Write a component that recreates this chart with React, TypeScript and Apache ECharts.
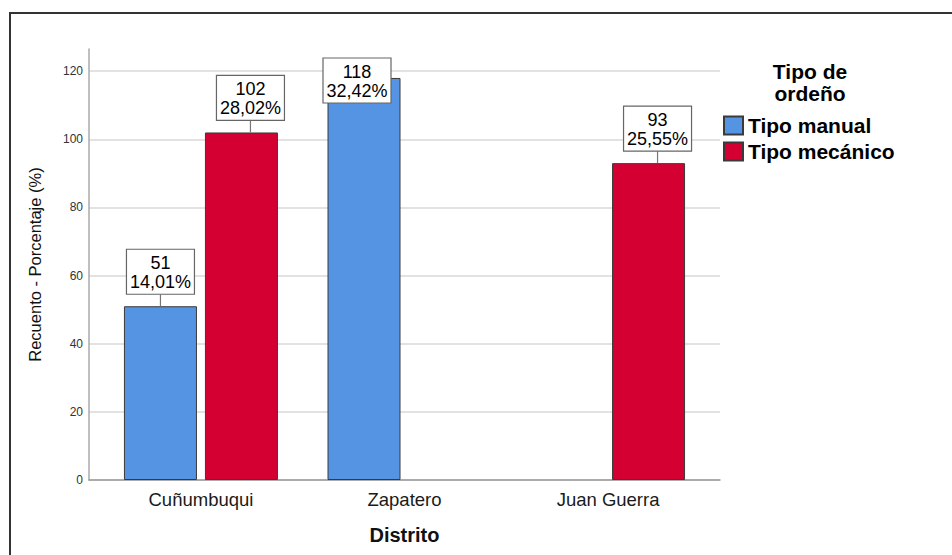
import React, { useEffect, useRef } from "react";
import * as echarts from "echarts";

const categories = ["Cuñumbuqui", "Zapatero", "Juan Guerra"];
const seriesNames = ["Tipo manual", "Tipo mecánico"];
const manualValues: (number | null)[] = [51, 118, null];
const mecanicoValues: (number | null)[] = [102, null, 93];
const manualPct: (string | null)[] = ["14,01%", "32,42%", null];
const mecanicoPct: (string | null)[] = ["28,02%", null, "25,55%"];
const yTicks = [0, 20, 40, 60, 80, 100, 120];
const legendTitleLines = ["Tipo de", "ordeño"];

const FONT = "'Liberation Sans', Arial, Helvetica, sans-serif";
const BLUE = "#5594E2";
const RED = "#D50032";
const BAR_W = 73;
const BAR_GAP = 8;

export default function App() {
  const ref = useRef<HTMLDivElement>(null);

  useEffect(() => {
    if (!ref.current) return;
    const chart = echarts.init(ref.current, undefined, { renderer: "svg" });

    const toPoints = (vals: (number | null)[]) =>
      vals.map((v, i) => (v == null ? null : [i, v])).filter((d) => d !== null);

    const annotations: { x: number; v: number; s: number; pct: string }[] = [];
    [manualValues, mecanicoValues].forEach((vals, s) => {
      const pcts = s === 0 ? manualPct : mecanicoPct;
      vals.forEach((v, i) => {
        if (v != null) annotations.push({ x: i, v, s, pct: pcts[i] as string });
      });
    });

    const option: any = {
      animation: false,
      backgroundColor: "#ffffff",
      grid: { left: 89, right: 232, top: 49, bottom: 75, outerBoundsMode: "none", containLabel: false },
      legend: {
        orient: "vertical",
        left: 723,
        top: 115,
        padding: 0,
        itemWidth: 19,
        itemHeight: 18,
        itemGap: 5,
        icon: "rect",
        data: seriesNames,
        textStyle: { fontFamily: FONT, fontSize: 21, fontWeight: "bold", color: "#000" },
      },
      graphic: [
        {
          type: "rect",
          shape: { x: 10, y: 13, width: 2000, height: 2000 },
          style: { fill: "transparent", stroke: "#333", lineWidth: 2 },
          silent: true,
        },
        ...legendTitleLines.map((t, i) => ({
          type: "text",
          x: 810,
          y: 71 + i * 22,
          style: {
            text: t,
            fontFamily: FONT,
            fontSize: 21,
            fontWeight: "bold",
            fill: "#000",
            align: "center",
            verticalAlign: "middle",
          },
        })),
      ],
      xAxis: {
        type: "value",
        min: -0.55,
        max: 2.55,
        name: "Distrito",
        nameLocation: "middle",
        nameGap: 45,
        nameTextStyle: { fontFamily: FONT, fontSize: 20, fontWeight: "bold", color: "#111" },
        axisLine: { show: true, onZero: false, lineStyle: { color: "#999", width: 1.5 } },
        axisTick: { show: false },
        splitLine: { show: false },
        axisLabel: {
          customValues: [0, 1, 2],
          formatter: (v: number) => categories[Math.round(v)] ?? "",
          margin: 10,
          fontFamily: FONT,
          fontSize: 18.5,
          color: "#1a1a1a",
        },
      },
      yAxis: {
        type: "value",
        min: 0,
        max: 126.5,
        interval: 20,
        name: "Recuento - Porcentaje (%)",
        nameLocation: "middle",
        nameGap: 46,
        nameTextStyle: { fontFamily: FONT, fontSize: 16.5, color: "#111" },
        axisLine: { show: true, onZero: false, lineStyle: { color: "#aaa", width: 1.5 } },
        axisTick: { show: false },
        axisLabel: {
          showMaxLabel: false,
          margin: 6,
          fontFamily: FONT,
          fontSize: 12,
          color: "#333",
          formatter: (v: number) => (yTicks.includes(v) ? String(v) : ""),
        },
        splitLine: { show: true, showMaxLine: false, lineStyle: { color: "#d8d8d8", width: 1.5 } },
      },
      series: [
        {
          name: seriesNames[0],
          type: "bar",
          data: toPoints(manualValues),
          barWidth: BAR_W,
          barGap: `${(BAR_GAP / BAR_W) * 100}%`,
          itemStyle: { color: BLUE, borderColor: "#3a3a3a", borderWidth: 1 },
        },
        {
          name: seriesNames[1],
          type: "bar",
          data: toPoints(mecanicoValues),
          barWidth: BAR_W,
          barGap: `${(BAR_GAP / BAR_W) * 100}%`,
          itemStyle: { color: RED, borderColor: "#3a3a3a", borderWidth: 1 },
        },
        {
          type: "custom",
          clip: false,
          z: 10,
          silent: true,
          data: annotations.map((a) => [a.x, a.v, a.s]),
          renderItem: (params: any, api: any) => {
            const a = annotations[params.dataIndex];
            const [cx, cy] = api.coord([a.x, a.v]);
            const half = (BAR_W + BAR_GAP) / 2;
            const barCx = cx + (a.s === 0 ? -half : half);
            const boxW = 68;
            const boxH = 45;
            const rawTop = cy - 12 - boxH;
            const minTop = params.coordSys.y + 9;
            const clamped = rawTop < minTop;
            const boxTop = clamped ? minTop : rawTop;
            const lx = barCx + (clamped ? -7 : a.s === 0 ? 0 : 9);
            const children: any[] = [];
            if (boxTop + boxH < cy) {
              children.push({
                type: "line",
                shape: { x1: lx, y1: boxTop + boxH, x2: lx, y2: cy },
                style: { stroke: "#777", lineWidth: 1.2 },
              });
            }
            children.push({
              type: "rect",
              shape: { x: lx - boxW / 2, y: boxTop, width: boxW, height: boxH },
              style: { fill: "#fff", stroke: "#666", lineWidth: 1.2 },
            });
            children.push({
              type: "text",
              x: lx,
              y: boxTop + boxH / 2 + 1,
              style: {
                text: `${a.v}\n${a.pct}`,
                fontFamily: FONT,
                fontSize: 18,
                lineHeight: 19,
                fill: "#000",
                align: "center",
                verticalAlign: "middle",
              },
            });
            return { type: "group", children };
          },
        },
      ],
    };

    chart.setOption(option);
    return () => chart.dispose();
  }, []);

  return (
    <div style={{ position: "fixed", left: 0, top: 0, width: 952, height: 555, background: "#fff" }}>
      <div ref={ref} style={{ width: 952, height: 555 }} />
    </div>
  );
}
